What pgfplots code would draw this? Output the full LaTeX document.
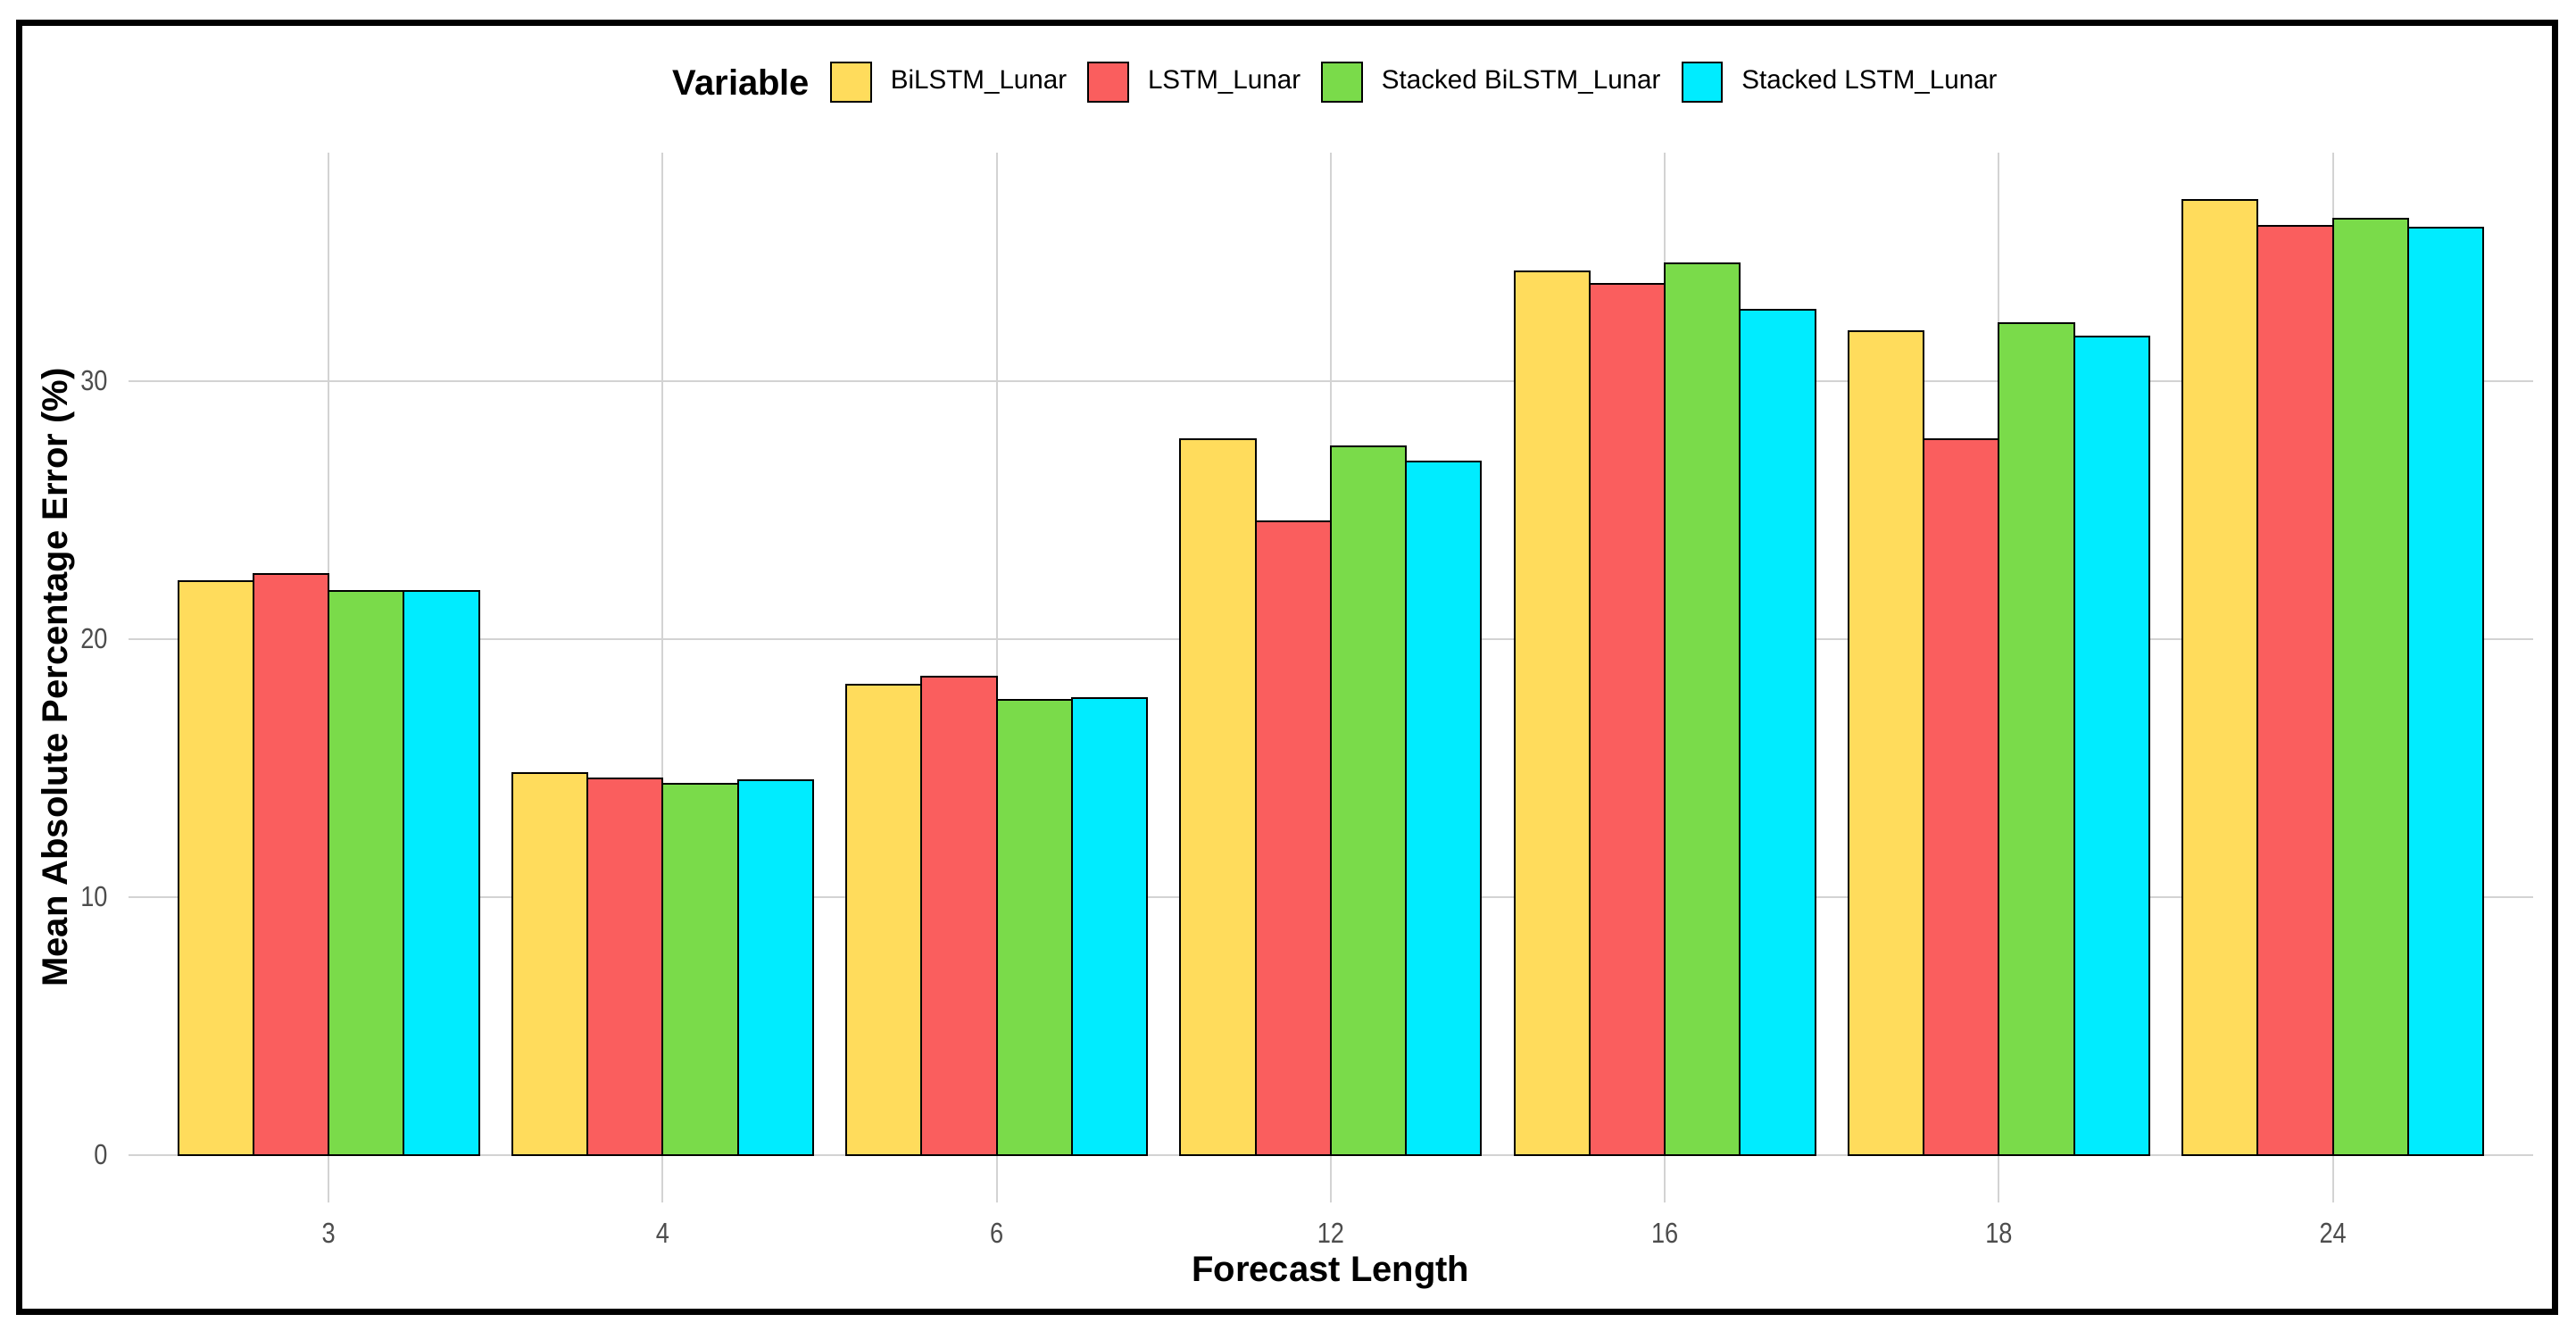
\documentclass[border=0pt]{standalone}
\usepackage{fontspec}
\setmainfont{Liberation Sans}
\usepackage{graphicx}
\usepackage{pgfplots}
\usepackage{pgfplotstable}
\pgfplotsset{compat=1.18}
\definecolor{cY}{HTML}{FFDC5C}
\definecolor{cR}{HTML}{FA5E5E}
\definecolor{cG}{HTML}{7ADB4A}
\definecolor{cC}{HTML}{00ECFF}
\definecolor{gridc}{HTML}{D3D3D3}
\definecolor{tickc}{HTML}{4D4D4D}
\newcommand\cond[1]{\scalebox{0.85}[1]{#1}}
\pgfplotsset{keybox/.style={legend image code/.code={\draw[##1] (0pt,-5.6pt) rectangle (11.2pt,5.6pt);}}}
\pgfplotstableread{
x B L SB SL
1 22.26 22.54 21.88 21.88
2 14.82 14.61 14.38 14.53
3 18.24 18.53 17.65 17.72
4 27.76 24.57 27.47 26.88
5 34.27 33.76 34.56 32.75
6 31.94 27.75 32.24 31.73
7 37.02 36.01 36.30 35.94
}\mape
\begin{document}
\begin{tikzpicture}
\fill[white] (-35.89pt,-35.65pt) rectangle (685.61pt,336.85pt);
\begin{axis}[
  scale only axis, width=673.65pt, height=294.2pt,
  xmin=0.4, xmax=7.6, ymin=-1.851, ymax=38.871,
  clip=false,
  xtick={1,2,3,4,5,6,7},
  xticklabels={\cond{3},\cond{4},\cond{6},\cond{12},\cond{16},\cond{18},\cond{24}},
  ytick={0,10,20,30},
  yticklabel={\cond{\pgfmathprintnumber{\tick}}},
  /pgf/number format/assume math mode=true,
  tick label style={font=\fontsize{8}{9.6}\selectfont, text=tickc},
  xticklabel style={yshift=-2.2pt},
  yticklabel style={xshift=-2.2pt},
  major tick length=0pt,
  tick style={draw=none},
  axis line style={draw=none},
  xmajorgrids, ymajorgrids,
  grid style={gridc, line width=0.55pt},
  xlabel={Forecast Length},
  ylabel={Mean Absolute Percentage Error (\%)},
  label style={font=\fontsize{10}{12}\selectfont\bfseries},
  xlabel style={at={(axis description cs:0.5,-0.0665)}, anchor=center},
  ylabel style={at={(axis description cs:-0.02915,0.5)}, anchor=center},
  legend columns=-1,
  legend style={at={(axis description cs:0.29186,1.0668)}, anchor=west,
    draw=none, fill=none, inner sep=0pt, outer sep=0pt,
    font=\fontsize{7.4}{9}\selectfont,
    nodes={inner sep=0pt},
    /tikz/every odd column/.append style={column sep=5.25pt},
    /tikz/every even column/.append style={column sep=5.75pt}},
]
\addplot[ybar, bar width=0.225, bar shift=-0.3375, fill=cY, draw=black, line width=0.5pt, keybox] table[x=x,y=B]{\mape};
\addlegendentry{BiLSTM\_Lunar}
\addplot[ybar, bar width=0.225, bar shift=-0.1125, fill=cR, draw=black, line width=0.5pt, keybox] table[x=x,y=L]{\mape};
\addlegendentry{LSTM\_Lunar}
\addplot[ybar, bar width=0.225, bar shift=0.1125, fill=cG, draw=black, line width=0.5pt, keybox] table[x=x,y=SB]{\mape};
\addlegendentry{Stacked BiLSTM\_Lunar}
\addplot[ybar, bar width=0.225, bar shift=0.3375, fill=cC, draw=black, line width=0.5pt, keybox] table[x=x,y=SL]{\mape};
\addlegendentry{Stacked LSTM\_Lunar}
\node[anchor=east, inner sep=0pt, font=\fontsize{10}{12}\selectfont\bfseries] at (axis description cs:0.28369,1.0668) {Variable};
\end{axis}
\draw[line width=1.75pt] (-30.39pt,-30.4pt) rectangle (679.61pt,330.35pt);
\end{tikzpicture}
\end{document}
